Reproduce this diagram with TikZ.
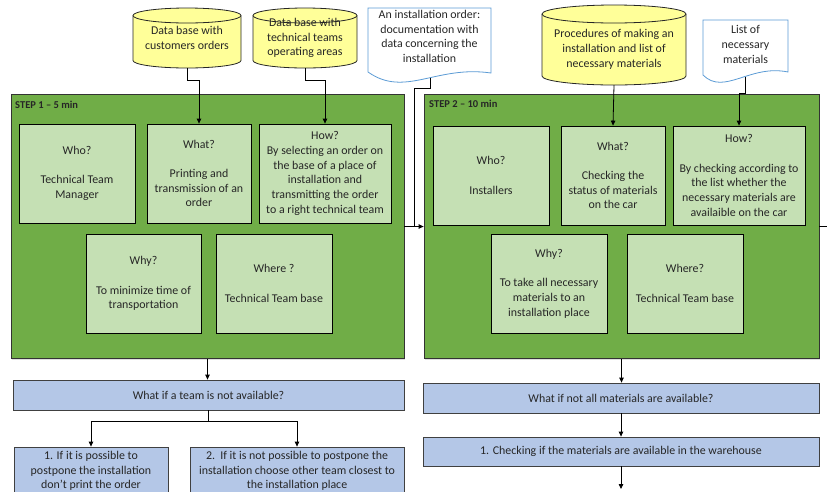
\documentclass[tikz,border=0pt]{standalone}
\usepackage{fontspec}
\setmainfont{Carlito}
\usetikzlibrary{arrows.meta,calc,shadows}
\definecolor{dgreen}{HTML}{70AD47}
\definecolor{lgreen}{HTML}{C5E0B4}
\definecolor{lblue}{HTML}{B4C7E7}
\definecolor{cylfill}{HTML}{FFFF99}
\definecolor{docline}{HTML}{5B9BD5}
\definecolor{txt}{HTML}{262626}
\tikzset{
  base/.style={inner sep=0pt, align=center, font=\fontsize{11.9}{14.7}\selectfont, text=txt},
  stepbox/.style={base, draw=black!80, line width=0.8pt, fill=dgreen,
    drop shadow={shadow xshift=1.2pt, shadow yshift=-1.2pt, opacity=0.25}},
  inbox/.style={base, draw=black, line width=0.8pt, fill=lgreen},
  qbox/.style={base, draw=black!75, line width=0.8pt, fill=lblue,
    drop shadow={shadow xshift=1.2pt, shadow yshift=-1.2pt, opacity=0.25}},
  cylst/.style={draw=black!85, line width=0.8pt, fill=cylfill},
  docst/.style={draw=docline, line width=0.8pt, fill=white},
  conn/.style={draw=black, line width=0.8pt},
  arr/.style={conn, -{Triangle[length=5pt,width=4.5pt]}},
  steplabel/.style={font=\fontsize{10.5}{12}\selectfont\bfseries, text=black!85, anchor=north west, inner sep=0pt}
}
\begin{document}
\begin{tikzpicture}[x=1pt,y=-1pt]
\useasboundingbox (0,0) rectangle (827,491);
\clip (0,0) rectangle (827,491);

% ---------- cylinders ----------
\draw[cylst] (133,15.5) -- (133,60.5) arc[start angle=180, end angle=360, x radius=54pt, y radius=7.5pt]
  -- (241,15.5) arc[start angle=0, end angle=180, x radius=54pt, y radius=7.5pt] -- cycle;
\draw[cylst, fill=none] (133,15.5) arc[start angle=180, end angle=360, x radius=54pt, y radius=7.5pt];
\node[base, minimum width=108pt, minimum height=60pt] (cyl1) at (187,38) {Data base with\\customers orders};

\draw[cylst] (253,15.5) -- (253,60.5) arc[start angle=180, end angle=360, x radius=52pt, y radius=7.5pt]
  -- (357,15.5) arc[start angle=0, end angle=180, x radius=52pt, y radius=7.5pt] -- cycle;
\draw[cylst, fill=none] (253,15.5) arc[start angle=180, end angle=360, x radius=52pt, y radius=7.5pt];
\node[base, minimum width=104pt, minimum height=60pt] (cyl2) at (305,38) {Data base with\\technical teams\\operating areas};

\draw[cylst] (542,14) -- (542,76) arc[start angle=180, end angle=360, x radius=72pt, y radius=9pt]
  -- (686,14) arc[start angle=0, end angle=180, x radius=72pt, y radius=9pt] -- cycle;
\draw[cylst, fill=none] (542,14) arc[start angle=180, end angle=360, x radius=72pt, y radius=9pt];
\node[base, minimum width=144pt, minimum height=80pt] (cyl3) at (614,45) {\rule{0pt}{17pt}Procedures of making an\\installation and list of\\necessary materials};

% ---------- documents ----------
\draw[docst] (368,8) -- (491,8) -- (491,73) .. controls (436,65) and (405,98) .. (368,72) -- cycle;
\node[base] (doc1) at (429.5,36.5) {An installation order:\\documentation with\\data concerning the\\installation};
\coordinate (doc1b) at (430,78);

\draw[docst] (703,20) -- (788,20) -- (788,72) .. controls (750,64) and (724,96) .. (703,75) -- cycle;
\node[base] (doc2) at (745.5,44.5) {List of\\necessary\\materials};
\coordinate (doc2b) at (745,77);

% ---------- step 1 ----------
\node[stepbox, minimum width=393pt, minimum height=264pt] (step1) at (207.5,226.5) {};
\node[steplabel] (s1lab) at (15,101) {STEP 1 – 5 min};
\node[inbox, minimum width=116pt, minimum height=99pt] (who1) at (77,173.5) {Who?\\[14.7pt]Technical Team\\Manager};
\node[inbox, minimum width=104pt, minimum height=99pt] (what1) at (199,173.5) {What?\\[14.7pt]Printing and\\transmission of an\\order};
\node[inbox, minimum width=132pt, minimum height=99pt] (how1) at (325,173.5) {How?\\By selecting an order on\\the base of a place of\\installation and\\transmitting the order\\to a right technical team};
\node[inbox, minimum width=115pt, minimum height=99pt] (why1) at (143.5,283.5) {Why?\\[14.7pt]To minimize time of\\transportation};
\node[inbox, minimum width=116pt, minimum height=99pt] (where1) at (274,283.5) {Where ?\\[14.7pt]Technical Team base};

% ---------- step 2 ----------
\node[stepbox, minimum width=395pt, minimum height=264pt] (step2) at (621.5,226.5) {};
\node[steplabel] (s2lab) at (429,100) {STEP 2 – 10 min};
\node[inbox, minimum width=116pt, minimum height=99pt] (who2) at (491,175.5) {Who?\\[14.7pt]Installers};
\node[inbox, minimum width=104pt, minimum height=99pt] (what2) at (613,175.5) {What?\\[14.7pt]Checking the\\status of materials\\on the car};
\node[inbox, minimum width=132pt, minimum height=99pt] (how2) at (739,175.5) {How?\\[14.7pt]By checking according to\\the list whether the\\necessary materials are\\availaible on the car};
\node[inbox, minimum width=116pt, minimum height=99pt] (why2) at (549,283.5) {Why?\\[14.7pt]To take all necessary\\materials to an\\installation place};
\node[inbox, minimum width=116pt, minimum height=99pt] (where2) at (685,283.5) {Where?\\[14.7pt]Technical Team base};

% ---------- question boxes ----------
\node[qbox, minimum width=391pt, minimum height=30pt] (q1) at (208.5,395) {What if a team is not available?};
\node[qbox, minimum width=154pt, minimum height=48pt] (a1) at (91,471) {\raisebox{0pt}[\height][0pt]{}1. If it is possible to\\postpone the installation\\don’t print the order\raisebox{0pt}[0pt][0pt]{}};
\node[qbox, minimum width=214pt, minimum height=48pt] (a2) at (297,471) {2.\ \ If it is not possible to postpone the\\installation choose other team closest to\\the installation place};
\node[qbox, minimum width=396pt, minimum height=30pt] (q2) at (621,398) {What if not all materials are available?};
\node[qbox, minimum width=396pt, minimum height=29pt] (c2) at (621,451.5) {1. Checking if the materials are available in the warehouse};

% ---------- connectors ----------
\draw[arr] (cyl1.south) -- ++(0,12) -| (what1.north);
\draw[arr] (cyl2.south) -- ++(0,12) -| (how1.north);
\draw[arr] (cyl3.south) -- (what2.north);
\draw[arr] (doc2b) -- ++(0,16) -| (how2.north);
\coordinate (jn) at ($(step1.east)!0.5!(step2.west)$);
\draw[conn] (doc1b) -- ++(0,10) -| (jn);
\draw[arr] (step1.east) -- (step2.west);
\coordinate (offr) at (827,226.5);
\draw[conn] (step2.east) -- (offr);
\draw[arr] (step1.south) -- (step1.south |- q1.north);
\draw[arr] (q1.south) -- ++(0,11) -| (a1.north);
\draw[arr] (q1.south) -- ++(0,11) -| (a2.north);
\draw[arr] (step2.south) -- (step2.south |- q2.north);
\draw[arr] (q2.south) -- (c2.north);
\coordinate (offb) at (621,489);
\draw[arr] (c2.south) -- (offb);
\end{tikzpicture}
\end{document}
